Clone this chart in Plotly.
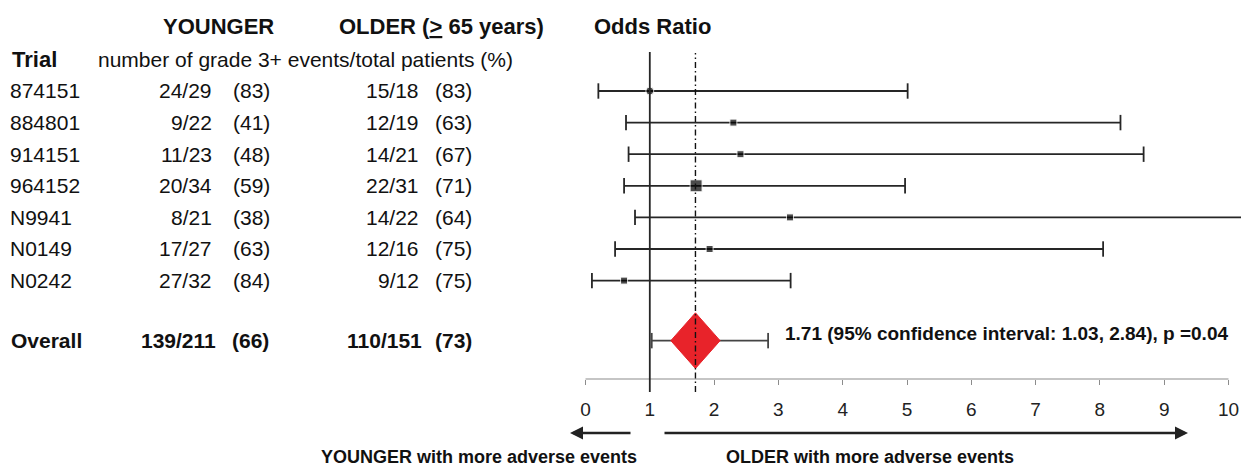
import plotly.graph_objects as go

# ---------------- data ----------------
trials = ["874151", "884801", "914151", "964152", "N9941", "N0149", "N0242"]
younger_events = [24, 9, 11, 20, 8, 17, 27]
younger_total = [29, 22, 23, 34, 21, 27, 32]
younger_pct = [83, 41, 48, 59, 38, 63, 84]
older_events = [15, 12, 14, 22, 14, 12, 9]
older_total = [18, 19, 21, 31, 22, 16, 12]
older_pct = [83, 63, 67, 71, 64, 75, 75]
odds_ratio = [1.00, 2.30, 2.41, 1.72, 3.18, 1.93, 0.60]
ci_low = [0.20, 0.63, 0.67, 0.60, 0.77, 0.46, 0.10]
ci_high = [5.01, 8.32, 8.68, 4.97, 10.6, 8.05, 3.19]

overall_label = "Overall"
overall_younger = (139, 211, 66)
overall_older = (110, 151, 73)
overall_or = 1.71
overall_ci = (1.03, 2.84)
overall_p = 0.04

tick_values = [0, 1, 2, 3, 4, 5, 6, 7, 8, 9, 10]
tick_labels = ["0", "1", "2", "3", "4", "5", "6", "7", "8", "9", "10"]

# ---------------- styles / layout constants ----------------
W, H = 1241, 466
FONT = "Liberation Sans, Arial, sans-serif"
TXT = "#111111"
LINE = "#262626"
RED = "#e8232a"
marker_sizes = [8, 7, 7, 12, 7, 7, 7]
marker_symbols = ["circle", "square", "square", "square", "square", "square", "square"]

X0_PX, UNIT_PX = 585.5, 64.3      # pixel of x=0, pixels per unit
DOM_L = 560
ROW0_PX, ROW_PX = 91, 31.6        # pixel of first row, row pitch
TOP_PX, AXIS_PX = 40, 379

x_range = [(DOM_L - X0_PX) / UNIT_PX, (W - X0_PX) / UNIT_PX]
y_range = [(AXIS_PX - ROW0_PX) / ROW_PX, (TOP_PX - ROW0_PX) / ROW_PX]


def pxx(p):
    return p / W


def pxy(p):
    return (H - p) / H


n = len(trials)
row_y = list(range(n))
overall_y = n + 0.9

fig = go.Figure()

# CI lines of the trials
lx, ly = [], []
for lo, hi, y in zip(ci_low, ci_high, row_y):
    lx += [lo, hi, None]
    ly += [y, y, None]
fig.add_trace(go.Scatter(x=lx, y=ly, mode="lines",
                         line=dict(color=LINE, width=1.8), hoverinfo="skip"))
# caps
fig.add_trace(go.Scatter(x=ci_low + ci_high, y=row_y + row_y, mode="markers",
                         marker=dict(symbol="line-ns", size=11,
                                     line=dict(color=LINE, width=1.8)),
                         hoverinfo="skip"))
# point estimates
fig.add_trace(go.Scatter(x=odds_ratio, y=row_y, mode="markers",
                         marker=dict(symbol=marker_symbols, size=marker_sizes,
                                     color="#000000"),
                         hoverinfo="skip"))

# overall CI
fig.add_trace(go.Scatter(x=list(overall_ci), y=[overall_y, overall_y],
                         mode="lines+markers",
                         line=dict(color="#444444", width=1.8),
                         marker=dict(symbol="line-ns", size=11,
                                     line=dict(color="#444444", width=1.8)),
                         hoverinfo="skip"))
# overall diamond
half_w, half_h = 0.383, 0.88
fig.add_trace(go.Scatter(
    x=[overall_or - half_w, overall_or, overall_or + half_w, overall_or, overall_or - half_w],
    y=[overall_y, overall_y - half_h, overall_y, overall_y + half_h, overall_y],
    mode="lines", fill="toself", fillcolor=RED,
    line=dict(color=RED, width=1), hoverinfo="skip"))

# ---------------- shapes ----------------
shapes = [
    # axis line from 0 to 10
    dict(type="line", xref="x", yref="y domain", x0=tick_values[0], x1=tick_values[-1],
         y0=0, y1=0, line=dict(color="#8c8c8c", width=1.2)),
    # line of no effect
    dict(type="line", xref="x", yref="paper", x0=1, x1=1,
         y0=pxy(392), y1=pxy(52), line=dict(color=LINE, width=1.8)),
    # overall estimate
    dict(type="line", xref="x", yref="paper", x0=overall_or, x1=overall_or,
         y0=pxy(392), y1=pxy(53),
         line=dict(color="#111111", width=1.4, dash="6px,3px,1.5px,3px")),
]

# ---------------- annotations ----------------
ann = []


def text(x, y, s, size=21, bold=False, anchor="left", yref="paper"):
    ann.append(dict(x=x, y=y, xref="paper", yref=yref, text=f"<b>{s}</b>" if bold else s,
                    showarrow=False, xanchor=anchor, yanchor="middle",
                    font=dict(family=FONT, size=size, color=TXT)))


# header
text(pxx(161), pxy(26), "YOUNGER", size=22, bold=True)
text(pxx(337), pxy(26), "OLDER (<u>&gt;</u> 65 years)", size=22, bold=True)
text(pxx(592), pxy(26), "Odds Ratio", size=22, bold=True)
text(pxx(10), pxy(59), "Trial", size=22, bold=True)
text(pxx(96), pxy(59), "number of grade 3+ events/total patients (%)", size=21)

# rows
for i in range(n):
    y = row_y[i]
    text(pxx(8), y, trials[i], yref="y")
    text(pxx(214), y, f"{younger_events[i]}/{younger_total[i]}", anchor="right", yref="y")
    text(pxx(231), y, f"({younger_pct[i]})", yref="y")
    text(pxx(421), y, f"{older_events[i]}/{older_total[i]}", anchor="right", yref="y")
    text(pxx(433), y, f"({older_pct[i]})", yref="y")

# overall row
text(pxx(9), overall_y, overall_label, bold=True, yref="y")
text(pxx(218), overall_y, f"{overall_younger[0]}/{overall_younger[1]}", bold=True, anchor="right", yref="y")
text(pxx(230), overall_y, f"({overall_younger[2]})", bold=True, yref="y")
text(pxx(424), overall_y, f"{overall_older[0]}/{overall_older[1]}", bold=True, anchor="right", yref="y")
text(pxx(433), overall_y, f"({overall_older[2]})", bold=True, yref="y")
text(pxx(783), pxy(333),
     f"{overall_or:.2f} (95% confidence interval: {overall_ci[0]:.2f}, {overall_ci[1]:.2f}), p ={overall_p:.2f}",
     size=19, bold=True)

# direction arrows
ann.append(dict(x=pxx(570), y=pxy(433), xref="paper", yref="paper",
                ax=62, ay=0, axref="pixel", ayref="pixel", text="", showarrow=True,
                arrowhead=2, arrowsize=1, arrowwidth=2.6, arrowcolor="#222222"))
ann.append(dict(x=pxx(1188), y=pxy(433), xref="paper", yref="paper",
                ax=-525, ay=0, axref="pixel", ayref="pixel", text="", showarrow=True,
                arrowhead=2, arrowsize=1, arrowwidth=2.6, arrowcolor="#222222"))
text(pxx(479), pxy(457), "YOUNGER with more adverse events", size=18, bold=True, anchor="center")
text(pxx(870), pxy(457), "OLDER with more adverse events", size=18, bold=True, anchor="center")

fig.update_layout(
    width=W, height=H,
    margin=dict(l=0, r=0, t=0, b=0),
    paper_bgcolor="white", plot_bgcolor="white",
    showlegend=False, hovermode=False,
    shapes=shapes, annotations=ann,
    xaxis=dict(domain=[DOM_L / W, 1], range=x_range, autorange=False,
               showgrid=False, zeroline=False, showline=False,
               ticks="outside", ticklen=5, tickwidth=1, tickcolor="#8c8c8c",
               tickvals=tick_values, ticktext=tick_labels, ticklabelstandoff=8,
               tickfont=dict(family=FONT, size=19, color="#222222")),
    yaxis=dict(domain=[pxy(AXIS_PX), pxy(TOP_PX)], range=y_range, autorange=False,
               visible=False),
)

fig.write_html("out.html", config={"displayModeBar": False},
               post_script="document.body.style.margin='0px';document.body.style.overflow='hidden';")
